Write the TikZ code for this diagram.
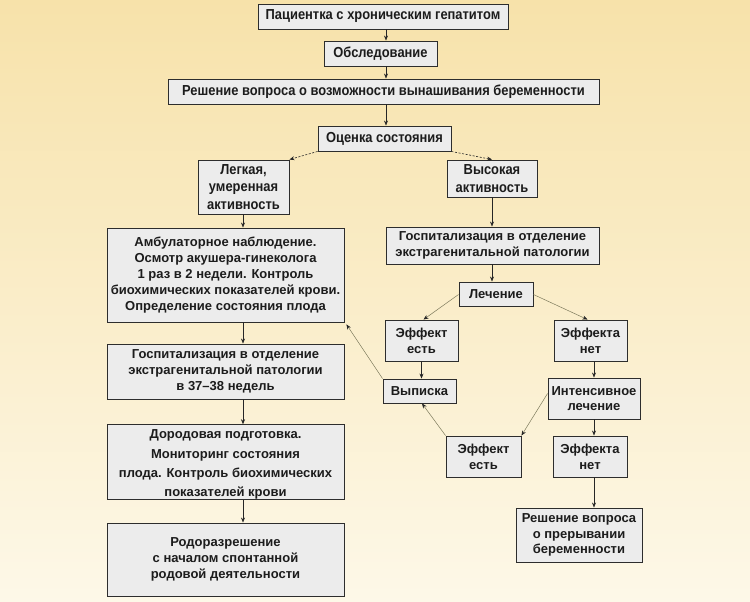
\documentclass[tikz,border=0pt]{standalone}
\usepackage{fontspec}
\setmainfont{Liberation Sans}
\newfontfamily\condf[FakeStretch=0.89]{Liberation Sans}
\usetikzlibrary{arrows.meta,calc}

\definecolor{bgtop}{RGB}{247,226,170}
\definecolor{bgmid}{RGB}{252,240,166}
\definecolor{bgbot}{RGB}{253,248,232}
\definecolor{boxfill}{RGB}{236,236,236}
\definecolor{boxline}{RGB}{45,45,45}
\definecolor{thinline}{RGB}{125,122,92}
\definecolor{txt}{RGB}{28,28,28}

\newcommand\mybox[7]{\node[#1,minimum width={(#5-#3)*1pt},minimum height={(#6-#4)*1pt}] (#2) at ({(#3+#5)/2},{(#4+#6)/2}) {#7};}

\begin{document}
\begin{tikzpicture}[x=1pt,y=-1pt,
  box/.style={draw=boxline, line width=0.9pt, fill=boxfill, inner sep=0pt, align=center, text=txt, font=\bfseries\fontsize{13}{15.8}\selectfont},
  cbox/.style={box, font=\condf\bfseries\fontsize{14.5}{17.5}\selectfont},
  ibox/.style={box, font=\bfseries\fontsize{13}{19.3}\selectfont},
  arr/.style={draw=black!85, line width=0.6pt, -{Stealth[length=5pt,width=4pt]}},
  darr/.style={arr, dash pattern=on 2pt off 1.6pt},
  tarr/.style={draw=thinline, line width=0.5pt, -{Stealth[length=5pt,width=4pt,color=black!85]}}
]
\useasboundingbox (0,0) rectangle (750,602);
\shade[top color=bgtop, middle color=bgmid, bottom color=bgbot] (0,0) rectangle (750,602);

\mybox{cbox}{A}{258}{4}{508}{29}{Пациентка с хроническим гепатитом}
\mybox{cbox}{B}{324}{41}{437}{66}{Обследование}
\mybox{cbox}{C}{168}{79}{599}{104}{Решение вопроса о возможности вынашивания беременности}
\mybox{cbox}{D}{318}{126}{451}{151}{Оценка состояния}
\mybox{cbox}{E}{198}{160}{289}{214}{Легкая,\\умеренная\\активность}
\mybox{cbox}{F}{447}{160}{537}{197}{Высокая\\активность}
\mybox{box}{G}{107}{228}{344}{322}{Амбулаторное наблюдение.\\Осмотр акушера-гинеколога\\1 раз в 2 недели. Контроль\\биохимических показателей крови.\\Определение состояния плода}
\mybox{box}{H}{107}{344}{344}{399}{Госпитализация в отделение\\экстрагенитальной патологии\\в 37–38 недель}
\mybox{ibox}{I}{107}{425}{344}{499}{\rule{0pt}{14pt}Дородовая подготовка.\\Мониторинг состояния\\плода. Контроль биохимических\\показателей крови}
\mybox{box}{J}{107}{523}{344}{596}{Родоразрешение\\с началом спонтанной\\родовой деятельности}
\mybox{box}{K}{386}{227}{599}{264}{Госпитализация в отделение\\экстрагенитальной патологии}
\mybox{box}{L}{459}{282}{533}{306}{Лечение}
\mybox{box}{M}{385}{320}{458}{361}{Эффект\\есть}
\mybox{box}{N}{554}{320}{627}{361}{Эффекта\\нет}
\mybox{box}{O}{383}{379}{456}{403}{Выписка}
\mybox{box}{P}{548}{378}{640}{419}{Интенсивное\\лечение}
\mybox{box}{Q}{446}{436}{521}{477}{Эффект\\есть}
\mybox{box}{R}{553}{436}{627}{477}{Эффекта\\нет}
\mybox{box}{S}{516}{508}{642}{562}{Решение вопроса\\о прерывании\\беременности}

\coordinate (ax) at (386,0);
\coordinate (lx) at (243,0);
\coordinate (mx) at (492,0);
\coordinate (rx) at (594,0);

\draw[arr] (A.south -| ax) -- (B.north -| ax);
\draw[arr] (B.south -| ax) -- (C.north -| ax);
\draw[arr] (C.south -| ax) -- (D.north -| ax);
\draw[darr] (D.south west) -- (E.north east);
\draw[darr] (D.south east) -- (F.north -| mx);
\draw[arr] (E.south -| lx) -- (G.north -| lx);
\draw[arr] (G.south -| lx) -- (H.north -| lx);
\draw[arr] (H.south -| lx) -- (I.north -| lx);
\draw[arr] (I.south -| lx) -- (J.north -| lx);
\draw[arr] (F.south -| mx) -- (K.north -| mx);
\draw[arr] (K.south -| mx) -- (L.north -| mx);
\draw[tarr] ([yshift=-0.5pt]L.west) -- ([xshift=2pt]M.north);
\draw[tarr] ([yshift=-0.5pt]L.east) -- ([xshift=-3pt]N.north);
\draw[arr] (M.south) -- (M.south |- O.north);
\draw[arr] (N.south -| rx) -- (P.north -| rx);
\draw[arr] (P.south -| rx) -- (R.north -| rx);
\draw[arr] (R.south -| rx) -- (S.north -| rx);
\draw[tarr] ([yshift=5pt]P.west) -- (Q.north east);
\draw[tarr] (Q.north west) -- ([xshift=2.5pt]O.south);
\draw[tarr] (O.north west) -- ([shift={(2pt,-2pt)}]G.south east);
\end{tikzpicture}
\end{document}
